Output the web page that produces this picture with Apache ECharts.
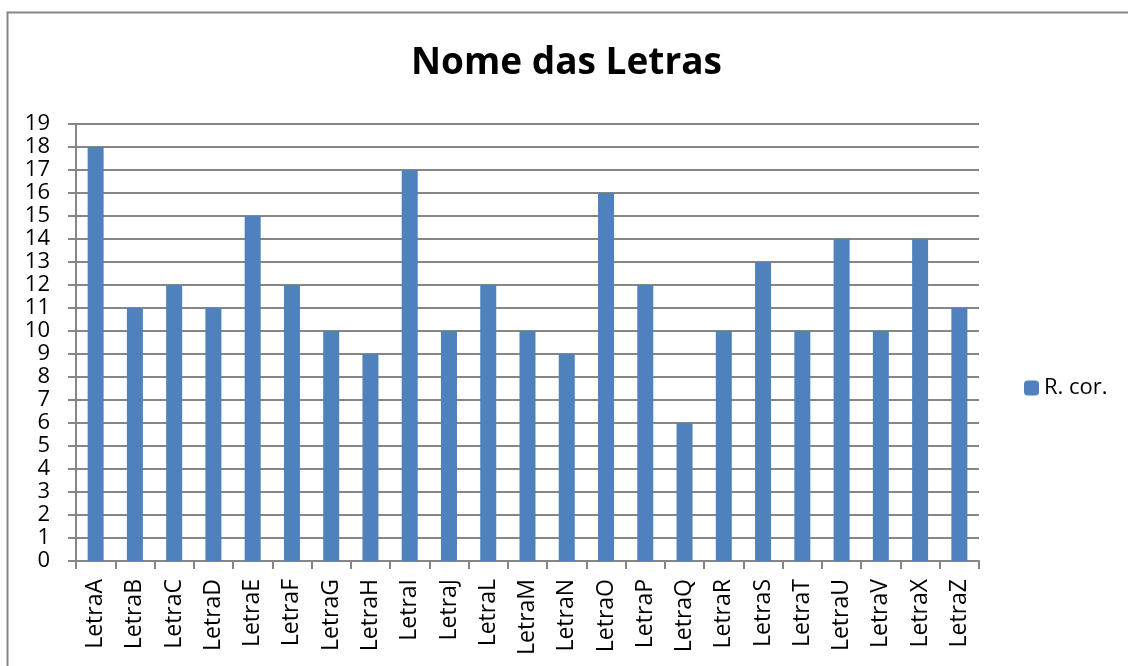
<!DOCTYPE html>
<html>
<head>
<meta charset="utf-8">
<script src="https://cdn.jsdelivr.net/npm/echarts@6/dist/echarts.min.js"></script>
<style>
  html, body { margin: 0; padding: 0; background: #fff; }
</style>
</head>
<body>
<div id="chart" style="width: 1128px; height: 666px"></div>
<script>
// categorias (sem K, W, Y)
var letras = ["LetraA", "LetraB", "LetraC", "LetraD", "LetraE", "LetraF", "LetraG", "LetraH",
  "LetraI", "LetraJ", "LetraL", "LetraM", "LetraN", "LetraO", "LetraP", "LetraQ",
  "LetraR", "LetraS", "LetraT", "LetraU", "LetraV", "LetraX", "LetraZ"];
var rCor = [18, 11, 12, 11, 15, 12, 10, 9, 17, 10, 12, 10, 9, 16, 12, 6, 10, 13, 10, 14, 10, 14, 11];
var serieNome = "R. cor.";

var fonte = "'Open Sans', 'Noto Sans', sans-serif";

var option = {
  animation: false,
  graphic: [
    {
      // moldura do gráfico
      type: "rect",
      shape: { x: 7.5, y: 12.5, width: 1200, height: 800 },
      style: { fill: "none", stroke: "#868686", lineWidth: 2 },
      silent: true
    }
  ],
  title: {
    text: "Nome das Letras",
    left: 406,
    top: 40,
    textStyle: { fontFamily: fonte, fontSize: 37, fontWeight: "bold", color: "#000" }
  },
  legend: {
    data: [serieNome],
    orient: "vertical",
    left: 1019,
    top: 372,
    itemWidth: 15,
    itemHeight: 15,
    itemGap: 6,
    textStyle: { fontFamily: fonte, fontSize: 22, color: "#000" }
  },
  grid: {
    left: 76,
    right: 149,
    top: 124,
    bottom: 105,
    containLabel: false
  },
  xAxis: {
    type: "category",
    data: letras,
    axisLine: { lineStyle: { color: "#868686", width: 2 } },
    axisTick: { show: true, alignWithLabel: false, length: 8, lineStyle: { color: "#868686", width: 2 } },
    axisLabel: {
      rotate: 90,
      interval: 0,
      margin: 18,
      fontFamily: fonte,
      fontSize: 23,
      color: "#000"
    }
  },
  yAxis: {
    type: "value",
    min: 0,
    max: 19,
    interval: 1,
    axisLine: { show: true, lineStyle: { color: "#868686", width: 2 } },
    axisTick: { show: true, length: 8, lineStyle: { color: "#868686", width: 2 } },
    splitLine: { lineStyle: { color: "#868686", width: 2 } },
    axisLabel: {
      margin: 26,
      fontFamily: fonte,
      fontSize: 22,
      color: "#000"
    }
  },
  series: [
    {
      name: serieNome,
      type: "bar",
      data: rCor,
      barWidth: 16,
      itemStyle: { color: "#4F81BD" }
    }
  ]
};

var myChart = echarts.init(document.getElementById("chart"), null, { renderer: "canvas" });
myChart.setOption(option);
</script>
</body>
</html>
